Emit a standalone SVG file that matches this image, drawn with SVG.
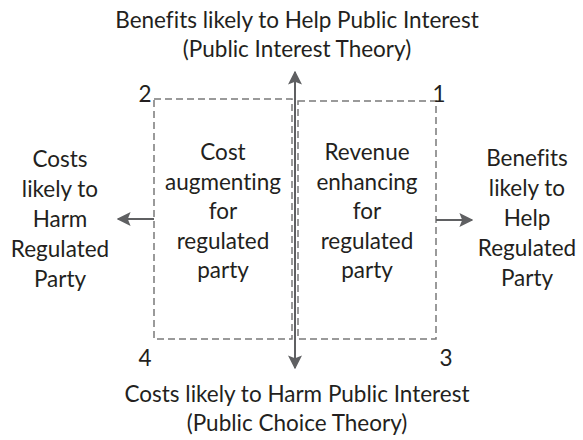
<svg xmlns="http://www.w3.org/2000/svg" width="583" height="440" viewBox="0 0 583 440">
  <style>
    text { font-family: Lato, "Open Sans", "Liberation Sans", sans-serif; font-size: 22.5px; fill: #231f20; text-anchor: middle; font-variant-ligatures: none; }
    .box { fill: none; stroke: #7a7a7a; stroke-width: 1.5; stroke-dasharray: 7 4; }
    .axis { stroke: #5f6062; stroke-width: 2; fill: none; }
  </style>
  <defs>
    <marker id="head" viewBox="0 0 10 10" refX="9" refY="5" markerWidth="7" markerHeight="7" orient="auto" markerUnits="strokeWidth">
      <path d="M0,0 L10,5 L0,10 L2,5 Z" fill="#5f6062"/>
    </marker>
  </defs>

  <!-- top and bottom axis labels -->
  <g id="public-interest">
    <text x="297" y="28">Benefits likely to Help Public Interest</text>
    <text x="297" y="57">(Public Interest Theory)</text>
  </g>
  <g id="public-choice">
    <text x="297" y="402">Costs likely to Harm Public Interest</text>
    <text x="297" y="431">(Public Choice Theory)</text>
  </g>

  <!-- quadrant 2: cost augmenting -->
  <g id="cost-augmenting">
    <rect class="box" x="154" y="99" width="138" height="240"/>
    <text x="223" y="160">Cost</text>
    <text x="223" y="189.5">augmenting</text>
    <text x="223" y="219">for</text>
    <text x="223" y="248.5">regulated</text>
    <text x="223" y="278">party</text>
  </g>

  <!-- quadrant 1: revenue enhancing -->
  <g id="revenue-enhancing">
    <rect class="box" x="298" y="101" width="138" height="238"/>
    <text x="367" y="160">Revenue</text>
    <text x="367" y="189.5">enhancing</text>
    <text x="367" y="219">for</text>
    <text x="367" y="248.5">regulated</text>
    <text x="367" y="278">party</text>
  </g>

  <!-- corner numbers -->
  <g id="corners">
    <text x="145" y="102">2</text>
    <text x="439" y="102">1</text>
    <text x="145" y="366">4</text>
    <text x="446" y="366">3</text>
  </g>

  <!-- side labels -->
  <g id="harm-regulated">
    <text x="60" y="167">Costs</text>
    <text x="60" y="197">likely to</text>
    <text x="60" y="227">Harm</text>
    <text x="60" y="257">Regulated</text>
    <text x="60" y="287">Party</text>
  </g>
  <g id="help-regulated">
    <text x="527" y="166">Benefits</text>
    <text x="527" y="196">likely to</text>
    <text x="527" y="226">Help</text>
    <text x="527" y="256">Regulated</text>
    <text x="527" y="286">Party</text>
  </g>

  <!-- connectors -->
  <g id="connectors">
    <line class="axis" x1="295" y1="220" x2="295" y2="72" marker-end="url(#head)"/>
    <line class="axis" x1="295" y1="220" x2="295" y2="368" marker-end="url(#head)"/>
    <line class="axis" x1="154" y1="219" x2="118" y2="219" marker-end="url(#head)"/>
    <line class="axis" x1="436" y1="220" x2="472" y2="220" marker-end="url(#head)"/>
  </g>
</svg>
